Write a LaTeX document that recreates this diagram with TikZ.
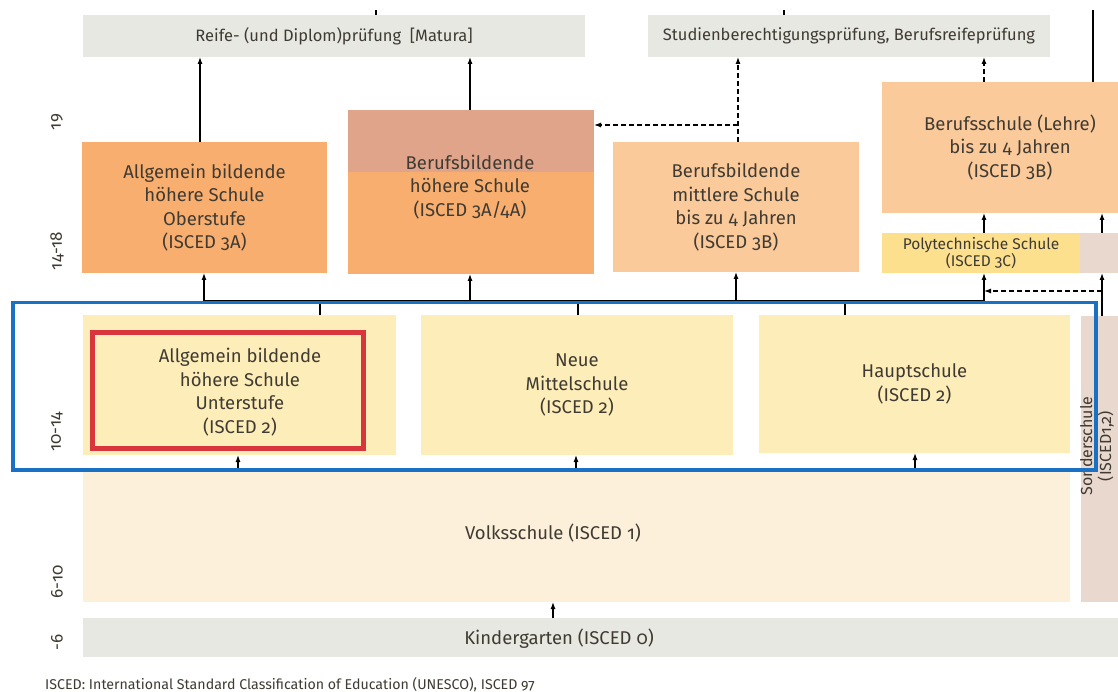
\documentclass[tikz,border=0pt]{standalone}
\usepackage{fontspec}
\setmainfont{Fira Sans}[Numbers=OldStyle]
\usetikzlibrary{arrows.meta}
\definecolor{grexam}{HTML}{E7E8E2}
\definecolor{orangeA}{HTML}{F8AE6F}
\definecolor{bhstop}{HTML}{DFA489}
\definecolor{orangeB}{HTML}{FBCA9B}
\definecolor{polyyel}{HTML}{FCE08D}
\definecolor{pinkgrey}{HTML}{E9D8CE}
\definecolor{schoolyel}{HTML}{FDEEB9}
\definecolor{volkcol}{HTML}{FDF0DB}
\definecolor{bandblue}{HTML}{1A70C3}
\definecolor{markred}{HTML}{D8353D}
\definecolor{txt}{HTML}{3F3B33}
\begin{document}
\begin{tikzpicture}[x=1pt,y=-1pt,
  box/.style={anchor=north west, inner sep=0pt, outer sep=0pt, align=center, text=txt,
              font=\fontsize{18.5}{23.5}\selectfont},
  lbl/.style={inner sep=0pt, align=center, text=txt, font=\fontsize{18.5}{23.5}\selectfont},
  examfont/.style={font=\fontsize{16.5}{19}\selectfont},
  agelbl/.style={inner sep=0pt, rotate=90, text=txt, font=\fontsize{17}{20}\selectfont},
  arr/.style={-{Latex[length=7pt,width=5pt]}, line width=1.2pt, black},
  dsh/.style={arr, dash pattern=on 5pt off 3pt},
  plain/.style={line width=1.2pt, black}]
\useasboundingbox (0,0) rectangle (1118,692);
\fill[white] (0,0) rectangle (1118,692);

% exam boxes
\node[box, examfont, fill=grexam, minimum width=502pt, minimum height=42pt] (reife) at (83,15) {Reife- (und Diplom)prüfung\ \ [Matura]};
\node[box, examfont, fill=grexam, minimum width=402pt, minimum height=42pt] (studien) at (648,15) {Studienberechtigungsprüfung, Berufsreifeprüfung};

% upper secondary
\node[box, fill=orangeA, minimum width=245pt, minimum height=131pt] (ober) at (82,142) {Allgemein bildende\\höhere Schule\\Oberstufe\\(ISCED 3A)};
\node[box, fill=orangeA, minimum width=246pt, minimum height=164pt,
  path picture={\fill[bhstop] (path picture bounding box.north west) rectangle ([yshift=-62pt]path picture bounding box.north east);}] (bhs) at (348,110) {};
\node[lbl] (bhstext) at (470,187) {Berufsbildende\\höhere Schule\\(ISCED 3A/4A)};
\node[box, fill=orangeB, minimum width=246pt, minimum height=130pt] (bms) at (613,142) {Berufsbildende\\mittlere Schule\\bis zu 4 Jahren\\(ISCED 3B)};
\node[box, fill=orangeB, minimum width=256pt, minimum height=131pt] (bs) at (882,82) {Berufsschule (Lehre)\\bis zu 4 Jahren\\(ISCED 3B)};
\node[box, fill=polyyel, minimum width=198pt, minimum height=40pt, font=\fontsize{15.5}{14.5}\selectfont] (poly) at (882,233) {Polytechnische Schule\\(ISCED 3C)};
\node[box, fill=pinkgrey, minimum width=40pt, minimum height=40pt] (polyg) at (1080,233) {};

% lower secondary
\node[box, fill=schoolyel, minimum width=313pt, minimum height=140pt] (unter) at (83,315) {};
\node[lbl] (untertext) at (240,392) {Allgemein bildende\\höhere Schule\\Unterstufe\\(ISCED 2)};
\node[box, fill=schoolyel, minimum width=312pt, minimum height=140pt] (nms) at (421,315) {Neue\\Mittelschule\\(ISCED 2)};
\node[box, fill=schoolyel, minimum width=311pt, minimum height=138pt] (haupt) at (759,315) {Hauptschule\\(ISCED 2)};

% primary, special, kindergarten
\node[box, fill=volkcol, minimum width=987pt, minimum height=131pt] (volks) at (83,471) {};
\node[lbl] (volkstext) at (553,533) {Volksschule (ISCED 1)};
\node[box, fill=pinkgrey, minimum width=60pt, minimum height=286pt] (sonder) at (1081,316) {};
\node[lbl, rotate=90, font=\fontsize{16}{19}\selectfont] (sondertext) at (1097,446) {Sonderschule\\(ISCED1,2)};
\node[box, fill=grexam, minimum width=1040pt, minimum height=39pt] (kinder) at (83,618) {};
\node[lbl] (kindertext) at (559,639) {Kindergarten (ISCED 0)};

% age labels
\node[agelbl] (a19) at (57,122) {19};
\node[agelbl] (a1418) at (57,251) {14-18};
\node[agelbl] (a1014) at (57,432) {10-14};
\node[agelbl] (a610) at (57,582) {6-10};
\node[agelbl] (a6) at (57,642) {-6};

% footnote
\node[anchor=west, inner sep=0pt, text=txt, font=\fontsize{14.2}{16}\selectfont] (foot) at (45,685) {ISCED: International Standard Classification of Education (UNESCO), ISCED 97};

% x positions of connectors
\coordinate (x200) at (200,0);
\coordinate (x204) at (204,0);
\coordinate (x238) at (238,0);
\coordinate (x320) at (320,0);
\coordinate (x376) at (376,0);
\coordinate (x470) at (470,0);
\coordinate (x553) at (553,0);
\coordinate (x576) at (576,0);
\coordinate (x578) at (578,0);
\coordinate (x736) at (736,0);
\coordinate (x738) at (738,0);
\coordinate (x784) at (784,0);
\coordinate (x845) at (845,0);
\coordinate (x915) at (915,0);
\coordinate (x984) at (984,0);
\coordinate (x1093) at (1093,0);
\coordinate (x1102) at (1102,0);
\coordinate (ytop) at (0,10);
\coordinate (y125) at (0,125);
\coordinate (y291) at (0,291);
\coordinate (ydist) at (0,301);

% upward connectors to the exams
\draw[arr] (ober.north -| x200) -- (reife.south -| x200);
\draw[arr] (bhs.north -| x470) -- (reife.south -| x470);
\draw[dsh] (bms.north -| x738) -- (studien.south -| x738);
\draw[dsh] (x738 |- y125) -- (bhs.east |- y125);
\draw[dsh] (bs.north -| x984) -- (studien.south -| x984);
\draw[plain] (x1093 |- ytop) -- (bs.north -| x1093);
\draw[plain] (reife.north -| x376) -- (x376 |- ytop);
\draw[plain] (studien.north -| x784) -- (x784 |- ytop);

% polytechnic / special school
\draw[arr] (poly.north -| x984) -- (bs.south -| x984);
\draw[arr] (polyg.north -| x1102) -- (bs.south -| x1102);
\draw[arr] (sonder.north -| x1102) -- (polyg.south -| x1102);
\draw[dsh] (x1102 |- y291) -- (x984 |- y291);

% distribution from lower secondary
\draw[plain] (x204 |- ydist) -- (x984 |- ydist);
\draw[arr] (x204 |- ydist) -- (ober.south -| x204);
\draw[arr] (x470 |- ydist) -- (bhs.south -| x470);
\draw[arr] (x736 |- ydist) -- (bms.south -| x736);
\draw[arr] (x984 |- ydist) -- (poly.south -| x984);
\draw[plain] (x320 |- ydist) -- (unter.north -| x320);
\draw[plain] (x578 |- ydist) -- (nms.north -| x578);
\draw[plain] (x845 |- ydist) -- (haupt.north -| x845);

% from primary
\draw[arr] (volks.north -| x238) -- (unter.south -| x238);
\draw[arr] (volks.north -| x576) -- (nms.south -| x576);
\draw[arr] (volks.north -| x915) -- (haupt.south -| x915);
\draw[arr] (kinder.north -| x553) -- (volks.south -| x553);

% highlight frames
\node[draw=markred, line width=5pt, inner sep=0pt, minimum width=271.5pt, minimum height=115.5pt, anchor=north west] (redframe) at (89.5,330) {};
\node[draw=bandblue, line width=3.5pt, inner sep=0pt, minimum width=1083pt, minimum height=167pt, anchor=north west] (blueframe) at (11,301) {};
\end{tikzpicture}
\end{document}
